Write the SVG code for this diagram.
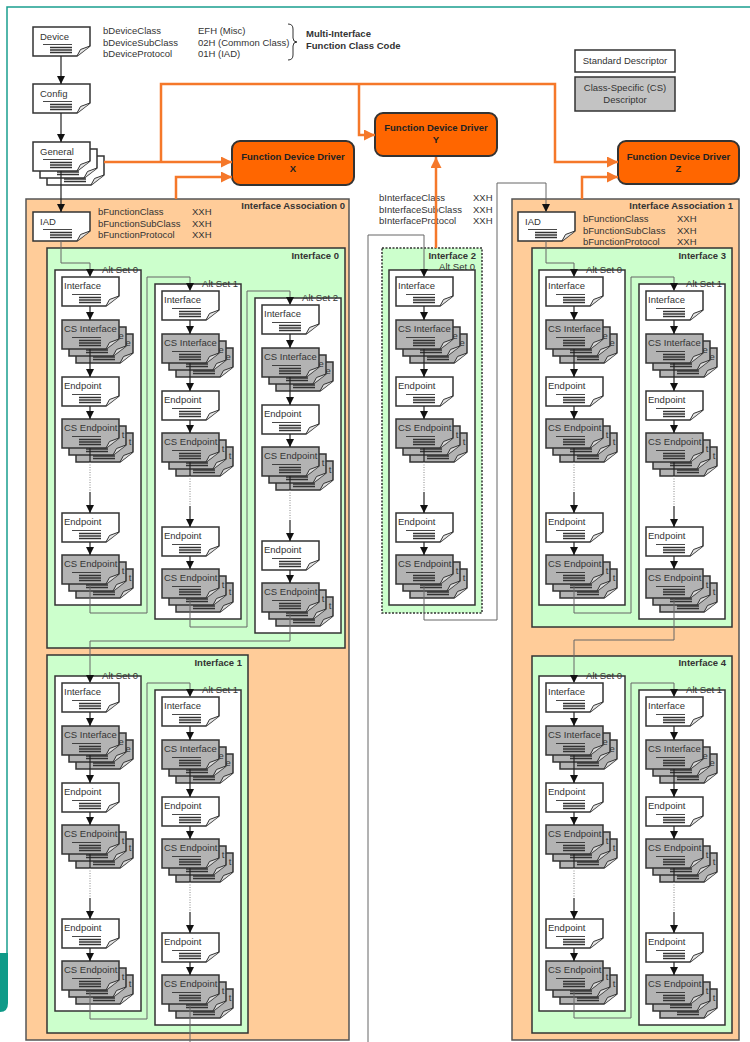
<svg xmlns="http://www.w3.org/2000/svg" width="750" height="1042" viewBox="0 0 750 1042">
<defs>
<style>
text{font-family:"Liberation Sans",Arial,sans-serif;font-size:9.5px;fill:#333}
.b{font-weight:bold}
.m{text-anchor:middle}
.e{text-anchor:end}
.ia{fill:#ffcc99;stroke:#555;stroke-width:1.5}
.if{fill:#ccffcc;stroke:#333;stroke-width:1.5}
.alt{fill:#fff;stroke:#333;stroke-width:1.5}
.fd{fill:#ff6600;stroke:#333;stroke-width:2}
.fdt{fill:#222;font-weight:bold}
.lg{stroke:#333;stroke-width:1.5}
.c{fill:none;stroke:#222;stroke-width:1.2;marker-end:url(#ah)}
.s{fill:none;stroke:#222;stroke-width:1.2}
.dot{fill:none;stroke:#888;stroke-width:1;stroke-dasharray:1 1.5}
.cn{fill:none;stroke:#666;stroke-width:1}
.cna{fill:none;stroke:#666;stroke-width:1;marker-end:url(#ah)}
.o{fill:none;stroke:#f5782a;stroke-width:2.5;marker-end:url(#ao)}
</style>
<marker id="ah" viewBox="0 0 8 8" markerUnits="userSpaceOnUse" markerWidth="8" markerHeight="8" refX="8" refY="4" orient="auto"><path d="M0,0L8,4L0,8Z" fill="#111"/></marker>
<marker id="ao" viewBox="0 0 10 10" markerUnits="userSpaceOnUse" markerWidth="11" markerHeight="11" refX="10" refY="5" orient="auto"><path d="M0,0L10,5L0,10Z" fill="#f5782a"/></marker>
<g id="dw"><path d="M0,0H57V19L44,29H0Z" fill="#fff" stroke="#333" stroke-width="1.5"/><path d="M44,29L47.5,22.5L57,19" fill="#e6e6e6" stroke="#333" stroke-width="1"/><path d="M10,17.5H39" stroke="#333" stroke-width="0.9"/><path d="M17,20.5H39M17,23H39M17,25.5H39" stroke="#333" stroke-width="1.3"/></g>
<g id="dg"><path d="M0,0H57V19L44,29H0Z" fill="#b3b3b3" stroke="#333" stroke-width="1.5"/><path d="M44,29L47.5,22.5L57,19" fill="#dcdcdc" stroke="#333" stroke-width="1"/><path d="M10,17.5H39" stroke="#333" stroke-width="0.9"/><path d="M17,20.5H39M17,23H39M17,25.5H39" stroke="#333" stroke-width="1.3"/></g>
</defs>
<rect width="750" height="1042" fill="#fff"/>
<g id="frame"><path d="M7,953V7H750" fill="none" stroke="#1a9e8f" stroke-width="1.5"/><path d="M0,953H8V1003Q8,1012 0,1012Z" fill="#0e9a88"/></g>

<g id="device-info">
<text x="103" y="34">bDeviceClass</text><text x="103" y="45.5">bDeviceSubClass</text><text x="103" y="57">bDeviceProtocol</text>
<text x="198" y="34">EFH (Misc)</text><text x="198" y="45.5">02H (Common Class)</text><text x="198" y="57">01H (IAD)</text>
<path d="M288,24Q293,24 293,29V38Q293,42 297,42Q293,42 293,46V55Q293,60 288,60" fill="none" stroke="#333" stroke-width="1"/>
<text class="b" x="306" y="37">Multi-Interface</text><text class="b" x="306" y="48.5">Function Class Code</text>
</g>

<g id="legend">
<rect class="lg" x="575" y="50" width="100" height="22" fill="#fff"/><text class="m" x="625" y="64">Standard Descriptor</text>
<rect class="lg" x="575" y="77" width="100" height="34" fill="#c3c3c3"/><text class="m" x="625" y="91">Class-Specific (CS)</text><text class="m" x="625" y="103">Descriptor</text>
</g>

<g id="device"><use href="#dw" x="33" y="27"/><text x="40" y="40">Device</text></g>
<g id="config"><use href="#dw" x="33" y="84"/><text x="40" y="97">Config</text></g>
<g id="general"><use href="#dw" x="47" y="156"/><use href="#dw" x="40" y="149"/><use href="#dw" x="33" y="142"/><text x="40" y="155">General</text></g>

<g id="fdx"><rect class="fd" x="232" y="141" width="122" height="44" rx="8"/><text class="fdt m" x="293" y="160">Function Device Driver</text><text class="fdt m" x="293" y="172">X</text></g>
<g id="fdy"><rect class="fd" x="375" y="113" width="122" height="43" rx="8"/><text class="fdt m" x="436" y="131">Function Device Driver</text><text class="fdt m" x="436" y="143">Y</text></g>
<g id="fdz"><rect class="fd" x="618" y="141" width="121" height="43" rx="8"/><text class="fdt m" x="678.5" y="160">Function Device Driver</text><text class="fdt m" x="678.5" y="172">Z</text></g>

<g id="ia0"><rect class="ia" x="26" y="199" width="323" height="841"/><text class="b e" x="345" y="209">Interface Association 0</text>
<text x="98" y="215">bFunctionClass</text><text x="98" y="226.5">bFunctionSubClass</text><text x="98" y="238">bFunctionProtocol</text>
<text x="192" y="215">XXH</text><text x="192" y="226.5">XXH</text><text x="192" y="238">XXH</text>
<g id="iad0"><use href="#dw" x="33" y="212"/><text x="40" y="225">IAD</text></g>
</g>
<g id="ia1"><rect class="ia" x="512" y="199" width="227" height="841"/><text class="b e" x="733" y="209">Interface Association 1</text>
<text x="583" y="222">bFunctionClass</text><text x="583" y="233.5">bFunctionSubClass</text><text x="583" y="245">bFunctionProtocol</text>
<text x="677" y="222">XXH</text><text x="677" y="233.5">XXH</text><text x="677" y="245">XXH</text>
<g id="iad1"><use href="#dw" x="518" y="212"/><text x="525" y="225">IAD</text></g>
</g>

<g id="if2-info"><text x="379" y="201">bInterfaceClass</text><text x="379" y="212.5">bInterfaceSubClass</text><text x="379" y="224">bInterfaceProtocol</text>
<text x="473" y="201">XXH</text><text x="473" y="212.5">XXH</text><text x="473" y="224">XXH</text></g>

<g id="interface0"><rect class="if" x="47" y="248" width="298" height="400"/><text class="b e" x="339" y="259">Interface 0</text></g>
<g id="interface1"><rect class="if" x="47" y="655" width="201" height="378"/><text class="b e" x="242" y="666">Interface 1</text></g>
<g id="interface2"><rect class="if" x="382" y="248" width="100" height="365" stroke-dasharray="2 1.5"/><text class="b e" x="476" y="259">Interface 2</text></g>
<g id="interface3"><rect class="if" x="532" y="248" width="200" height="379"/><text class="b e" x="726" y="259">Interface 3</text></g>
<g id="interface4"><rect class="if" x="532" y="656" width="200" height="377"/><text class="b e" x="726" y="666">Interface 4</text></g>

<g id="if0-alt0" transform="translate(62,277)"><rect class="alt" x="-7" y="-7" width="86" height="335"/><text class="e" x="76" y="-4">Alt Set 0</text>
<use href="#dw"/><text x="2" y="12">Interface</text>
<use href="#dg" x="14" y="57"/><text x="63.5" y="69">e</text><use href="#dg" x="7" y="50"/><text x="56.5" y="62">e</text><use href="#dg" y="43"/><text x="2" y="55">CS Interface</text>
<use href="#dw" y="100"/><text x="2" y="112">Endpoint</text>
<use href="#dg" x="14" y="156"/><text x="66.7" y="168">t</text><use href="#dg" x="7" y="149"/><text x="59.7" y="161">t</text><use href="#dg" y="142"/><text x="2" y="154">CS Endpoint</text>
<use href="#dw" y="236"/><text x="2" y="248">Endpoint</text>
<use href="#dg" x="14" y="292"/><text x="66.7" y="304">t</text><use href="#dg" x="7" y="285"/><text x="59.7" y="297">t</text><use href="#dg" y="278"/><text x="2" y="290">CS Endpoint</text></g>

<g id="if0-alt1" transform="translate(162,291)"><rect class="alt" x="-7" y="-7" width="86" height="335"/><text class="e" x="76" y="-4">Alt Set 1</text>
<use href="#dw"/><text x="2" y="12">Interface</text>
<use href="#dg" x="14" y="57"/><text x="63.5" y="69">e</text><use href="#dg" x="7" y="50"/><text x="56.5" y="62">e</text><use href="#dg" y="43"/><text x="2" y="55">CS Interface</text>
<use href="#dw" y="100"/><text x="2" y="112">Endpoint</text>
<use href="#dg" x="14" y="156"/><text x="66.7" y="168">t</text><use href="#dg" x="7" y="149"/><text x="59.7" y="161">t</text><use href="#dg" y="142"/><text x="2" y="154">CS Endpoint</text>
<use href="#dw" y="236"/><text x="2" y="248">Endpoint</text>
<use href="#dg" x="14" y="292"/><text x="66.7" y="304">t</text><use href="#dg" x="7" y="285"/><text x="59.7" y="297">t</text><use href="#dg" y="278"/><text x="2" y="290">CS Endpoint</text></g>

<g id="if0-alt2" transform="translate(262,305)"><rect class="alt" x="-7" y="-7" width="86" height="335"/><text class="e" x="76" y="-4">Alt Set 2</text>
<use href="#dw"/><text x="2" y="12">Interface</text>
<use href="#dg" x="14" y="57"/><text x="63.5" y="69">e</text><use href="#dg" x="7" y="50"/><text x="56.5" y="62">e</text><use href="#dg" y="43"/><text x="2" y="55">CS Interface</text>
<use href="#dw" y="100"/><text x="2" y="112">Endpoint</text>
<use href="#dg" x="14" y="156"/><text x="66.7" y="168">t</text><use href="#dg" x="7" y="149"/><text x="59.7" y="161">t</text><use href="#dg" y="142"/><text x="2" y="154">CS Endpoint</text>
<use href="#dw" y="236"/><text x="2" y="248">Endpoint</text>
<use href="#dg" x="14" y="292"/><text x="66.7" y="304">t</text><use href="#dg" x="7" y="285"/><text x="59.7" y="297">t</text><use href="#dg" y="278"/><text x="2" y="290">CS Endpoint</text></g>

<g id="if1-alt0" transform="translate(62,683)"><rect class="alt" x="-7" y="-7" width="86" height="335"/><text class="e" x="76" y="-4">Alt Set 0</text>
<use href="#dw"/><text x="2" y="12">Interface</text>
<use href="#dg" x="14" y="57"/><text x="63.5" y="69">e</text><use href="#dg" x="7" y="50"/><text x="56.5" y="62">e</text><use href="#dg" y="43"/><text x="2" y="55">CS Interface</text>
<use href="#dw" y="100"/><text x="2" y="112">Endpoint</text>
<use href="#dg" x="14" y="156"/><text x="66.7" y="168">t</text><use href="#dg" x="7" y="149"/><text x="59.7" y="161">t</text><use href="#dg" y="142"/><text x="2" y="154">CS Endpoint</text>
<use href="#dw" y="236"/><text x="2" y="248">Endpoint</text>
<use href="#dg" x="14" y="292"/><text x="66.7" y="304">t</text><use href="#dg" x="7" y="285"/><text x="59.7" y="297">t</text><use href="#dg" y="278"/><text x="2" y="290">CS Endpoint</text></g>

<g id="if1-alt1" transform="translate(162,697)"><rect class="alt" x="-7" y="-7" width="86" height="335"/><text class="e" x="76" y="-4">Alt Set 1</text>
<use href="#dw"/><text x="2" y="12">Interface</text>
<use href="#dg" x="14" y="57"/><text x="63.5" y="69">e</text><use href="#dg" x="7" y="50"/><text x="56.5" y="62">e</text><use href="#dg" y="43"/><text x="2" y="55">CS Interface</text>
<use href="#dw" y="100"/><text x="2" y="112">Endpoint</text>
<use href="#dg" x="14" y="156"/><text x="66.7" y="168">t</text><use href="#dg" x="7" y="149"/><text x="59.7" y="161">t</text><use href="#dg" y="142"/><text x="2" y="154">CS Endpoint</text>
<use href="#dw" y="236"/><text x="2" y="248">Endpoint</text>
<use href="#dg" x="14" y="292"/><text x="66.7" y="304">t</text><use href="#dg" x="7" y="285"/><text x="59.7" y="297">t</text><use href="#dg" y="278"/><text x="2" y="290">CS Endpoint</text></g>

<g id="if2-alt0" transform="translate(396,277)"><rect class="alt" x="-7" y="-7" width="86" height="335"/><text class="e" x="79" y="-7">Alt Set 0</text>
<use href="#dw"/><text x="2" y="12">Interface</text>
<use href="#dg" x="14" y="57"/><text x="63.5" y="69">e</text><use href="#dg" x="7" y="50"/><text x="56.5" y="62">e</text><use href="#dg" y="43"/><text x="2" y="55">CS Interface</text>
<use href="#dw" y="100"/><text x="2" y="112">Endpoint</text>
<use href="#dg" x="14" y="156"/><text x="66.7" y="168">t</text><use href="#dg" x="7" y="149"/><text x="59.7" y="161">t</text><use href="#dg" y="142"/><text x="2" y="154">CS Endpoint</text>
<use href="#dw" y="236"/><text x="2" y="248">Endpoint</text>
<use href="#dg" x="14" y="292"/><text x="66.7" y="304">t</text><use href="#dg" x="7" y="285"/><text x="59.7" y="297">t</text><use href="#dg" y="278"/><text x="2" y="290">CS Endpoint</text></g>

<g id="if3-alt0" transform="translate(546,277)"><rect class="alt" x="-7" y="-7" width="86" height="335"/><text class="e" x="76" y="-4">Alt Set 0</text>
<use href="#dw"/><text x="2" y="12">Interface</text>
<use href="#dg" x="14" y="57"/><text x="63.5" y="69">e</text><use href="#dg" x="7" y="50"/><text x="56.5" y="62">e</text><use href="#dg" y="43"/><text x="2" y="55">CS Interface</text>
<use href="#dw" y="100"/><text x="2" y="112">Endpoint</text>
<use href="#dg" x="14" y="156"/><text x="66.7" y="168">t</text><use href="#dg" x="7" y="149"/><text x="59.7" y="161">t</text><use href="#dg" y="142"/><text x="2" y="154">CS Endpoint</text>
<use href="#dw" y="236"/><text x="2" y="248">Endpoint</text>
<use href="#dg" x="14" y="292"/><text x="66.7" y="304">t</text><use href="#dg" x="7" y="285"/><text x="59.7" y="297">t</text><use href="#dg" y="278"/><text x="2" y="290">CS Endpoint</text></g>

<g id="if3-alt1" transform="translate(646,291)"><rect class="alt" x="-7" y="-7" width="86" height="335"/><text class="e" x="76" y="-4">Alt Set 1</text>
<use href="#dw"/><text x="2" y="12">Interface</text>
<use href="#dg" x="14" y="57"/><text x="63.5" y="69">e</text><use href="#dg" x="7" y="50"/><text x="56.5" y="62">e</text><use href="#dg" y="43"/><text x="2" y="55">CS Interface</text>
<use href="#dw" y="100"/><text x="2" y="112">Endpoint</text>
<use href="#dg" x="14" y="156"/><text x="66.7" y="168">t</text><use href="#dg" x="7" y="149"/><text x="59.7" y="161">t</text><use href="#dg" y="142"/><text x="2" y="154">CS Endpoint</text>
<use href="#dw" y="236"/><text x="2" y="248">Endpoint</text>
<use href="#dg" x="14" y="292"/><text x="66.7" y="304">t</text><use href="#dg" x="7" y="285"/><text x="59.7" y="297">t</text><use href="#dg" y="278"/><text x="2" y="290">CS Endpoint</text></g>

<g id="if4-alt0" transform="translate(546,683)"><rect class="alt" x="-7" y="-7" width="86" height="335"/><text class="e" x="76" y="-4">Alt Set 0</text>
<use href="#dw"/><text x="2" y="12">Interface</text>
<use href="#dg" x="14" y="57"/><text x="63.5" y="69">e</text><use href="#dg" x="7" y="50"/><text x="56.5" y="62">e</text><use href="#dg" y="43"/><text x="2" y="55">CS Interface</text>
<use href="#dw" y="100"/><text x="2" y="112">Endpoint</text>
<use href="#dg" x="14" y="156"/><text x="66.7" y="168">t</text><use href="#dg" x="7" y="149"/><text x="59.7" y="161">t</text><use href="#dg" y="142"/><text x="2" y="154">CS Endpoint</text>
<use href="#dw" y="236"/><text x="2" y="248">Endpoint</text>
<use href="#dg" x="14" y="292"/><text x="66.7" y="304">t</text><use href="#dg" x="7" y="285"/><text x="59.7" y="297">t</text><use href="#dg" y="278"/><text x="2" y="290">CS Endpoint</text></g>

<g id="if4-alt1" transform="translate(646,697)"><rect class="alt" x="-7" y="-7" width="86" height="335"/><text class="e" x="76" y="-4">Alt Set 1</text>
<use href="#dw"/><text x="2" y="12">Interface</text>
<use href="#dg" x="14" y="57"/><text x="63.5" y="69">e</text><use href="#dg" x="7" y="50"/><text x="56.5" y="62">e</text><use href="#dg" y="43"/><text x="2" y="55">CS Interface</text>
<use href="#dw" y="100"/><text x="2" y="112">Endpoint</text>
<use href="#dg" x="14" y="156"/><text x="66.7" y="168">t</text><use href="#dg" x="7" y="149"/><text x="59.7" y="161">t</text><use href="#dg" y="142"/><text x="2" y="154">CS Endpoint</text>
<use href="#dw" y="236"/><text x="2" y="248">Endpoint</text>
<use href="#dg" x="14" y="292"/><text x="66.7" y="304">t</text><use href="#dg" x="7" y="285"/><text x="59.7" y="297">t</text><use href="#dg" y="278"/><text x="2" y="290">CS Endpoint</text></g>

<g id="connectors">
<path class="c" d="M61,56V84"/><path class="c" d="M61,113V142"/><path class="c" d="M61,171V212"/>
<g id="alt-chains">
<path class="cna" d="M61,241V263H90V277"/>
<path class="cna" d="M90,585V613H147V277H190V291"/>
<path class="cna" d="M190,599V627H247V291H290V305"/>
<path class="cna" d="M290,613V641H90V683"/>
<path class="cna" d="M90,991V1019H147V683H190V697"/>
<path class="cn" d="M190,1005V1042"/>
<path class="cna" d="M368,1042V235H424V277"/>
<path class="cna" d="M424,585V620H497V183H546V212"/>
<path class="cna" d="M546,241V263H574V277"/>
<path class="cna" d="M574,585V613H631V277H674V291"/>
<path class="cna" d="M674,599V640H574V683"/>
<path class="cna" d="M574,991V1018H631V683H674V697"/>
</g>
<g transform="translate(62,277)"><path class="c" d="M28,29V43"/><path class="c" d="M28,72V100"/><path class="c" d="M28,129V142"/><path class="s" d="M28,171V185"/><path class="dot" d="M28,185V215"/><path class="c" d="M28,215V236"/><path class="c" d="M28,265V278"/></g>
<g transform="translate(162,291)"><path class="c" d="M28,29V43"/><path class="c" d="M28,72V100"/><path class="c" d="M28,129V142"/><path class="s" d="M28,171V185"/><path class="dot" d="M28,185V215"/><path class="c" d="M28,215V236"/><path class="c" d="M28,265V278"/></g>
<g transform="translate(262,305)"><path class="c" d="M28,29V43"/><path class="c" d="M28,72V100"/><path class="c" d="M28,129V142"/><path class="s" d="M28,171V185"/><path class="dot" d="M28,185V215"/><path class="c" d="M28,215V236"/><path class="c" d="M28,265V278"/></g>
<g transform="translate(62,683)"><path class="c" d="M28,29V43"/><path class="c" d="M28,72V100"/><path class="c" d="M28,129V142"/><path class="s" d="M28,171V185"/><path class="dot" d="M28,185V215"/><path class="c" d="M28,215V236"/><path class="c" d="M28,265V278"/></g>
<g transform="translate(162,697)"><path class="c" d="M28,29V43"/><path class="c" d="M28,72V100"/><path class="c" d="M28,129V142"/><path class="s" d="M28,171V185"/><path class="dot" d="M28,185V215"/><path class="c" d="M28,215V236"/><path class="c" d="M28,265V278"/></g>
<g transform="translate(396,277)"><path class="c" d="M28,29V43"/><path class="c" d="M28,72V100"/><path class="c" d="M28,129V142"/><path class="s" d="M28,171V185"/><path class="dot" d="M28,185V215"/><path class="c" d="M28,215V236"/><path class="c" d="M28,265V278"/></g>
<g transform="translate(546,277)"><path class="c" d="M28,29V43"/><path class="c" d="M28,72V100"/><path class="c" d="M28,129V142"/><path class="s" d="M28,171V185"/><path class="dot" d="M28,185V215"/><path class="c" d="M28,215V236"/><path class="c" d="M28,265V278"/></g>
<g transform="translate(646,291)"><path class="c" d="M28,29V43"/><path class="c" d="M28,72V100"/><path class="c" d="M28,129V142"/><path class="s" d="M28,171V185"/><path class="dot" d="M28,185V215"/><path class="c" d="M28,215V236"/><path class="c" d="M28,265V278"/></g>
<g transform="translate(546,683)"><path class="c" d="M28,29V43"/><path class="c" d="M28,72V100"/><path class="c" d="M28,129V142"/><path class="s" d="M28,171V185"/><path class="dot" d="M28,185V215"/><path class="c" d="M28,215V236"/><path class="c" d="M28,265V278"/></g>
<g transform="translate(646,697)"><path class="c" d="M28,29V43"/><path class="c" d="M28,72V100"/><path class="c" d="M28,129V142"/><path class="s" d="M28,171V185"/><path class="dot" d="M28,185V215"/><path class="c" d="M28,215V236"/><path class="c" d="M28,265V278"/></g>
<g id="driver-links">
<path class="o" d="M104,162H232"/>
<path class="o" d="M161,162V84H555V162H618"/>
<path class="o" d="M359,84V135H375"/>
<path class="o" d="M176,199V177H232"/>
<path class="o" d="M582,199V177H618"/>
<path class="o" d="M436,248V157"/>
</g>
</g>
</svg>
